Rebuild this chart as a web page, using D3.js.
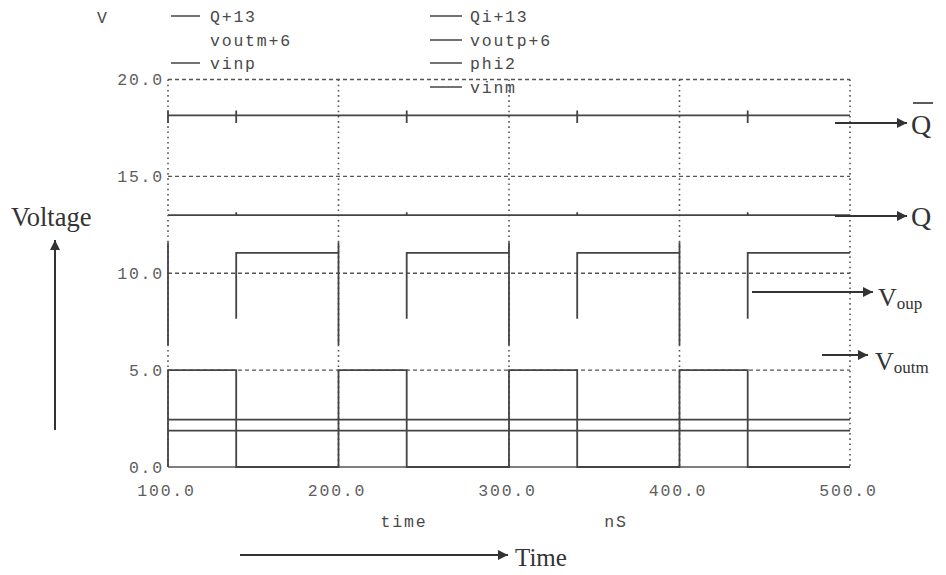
<!DOCTYPE html>
<html>
<head>
<meta charset="utf-8">
<script src="https://cdn.jsdelivr.net/npm/d3@7/dist/d3.min.js"></script>
<style>
  html, body { margin: 0; padding: 0; background: #fff; }
  svg { display: block; }
</style>
</head>
<body>
<svg id="chart" width="946" height="575"></svg>
<script>
// Transient simulation of the latch: time in nS, voltages offset for stacking.
const timeTicks = [100, 200, 300, 400, 500];
const timeTickLabels = ["100.0", "200.0", "300.0", "400.0", "500.0"];
const voltTicks = [0, 5, 10, 15, 20];
const voltTickLabels = ["0.0", "5.0", "10.0", "15.0", "20.0"];

// Qi+13 (Q-bar), with small glitches at each evaluation edge
const qiTime = [100, 100, 100, 100, 140, 140, 140, 140, 240, 240, 240, 240, 340, 340, 340, 340, 440, 440, 440, 440, 500];
const qiVolt = [18.15, 18.4, 17.75, 18.15, 18.15, 18.4, 17.75, 18.15, 18.15, 18.4, 17.75, 18.15, 18.15, 18.4, 17.75, 18.15, 18.15, 18.4, 17.75, 18.15, 18.15];

// Q+13
const qTime = [100, 140, 140, 140, 240, 240, 240, 340, 340, 340, 440, 440, 440, 500];
const qVolt = [13.0, 13.0, 13.15, 13.0, 13.0, 13.15, 13.0, 13.0, 13.15, 13.0, 13.0, 13.15, 13.0, 13.0];

// voutp+6 (NaN = no trace)
const voutpTime = [100, 100, NaN, 140, 140, 200, 200, 200, NaN, 240, 240, 300, 300, 300, NaN, 340, 340, 400, 400, 400, NaN, 440, 440, 500];
const voutpVolt = [11.6, 6.3, NaN, 7.65, 11.05, 11.05, 11.6, 6.3, NaN, 7.65, 11.05, 11.05, 11.6, 6.3, NaN, 7.65, 11.05, 11.05, 11.6, 6.3, NaN, 7.65, 11.05, 11.05];

// phi2 clock
const phi2Time = [100, 100, 140, 140, 200, 200, 240, 240, 300, 300, 340, 340, 400, 400, 440, 440, 500];
const phi2Volt = [0, 5, 5, 0, 0, 5, 5, 0, 0, 5, 5, 0, 0, 5, 5, 0, 0];

// differential inputs
const vinpTime = [100, 500];
const vinpVolt = [2.45, 2.45];
const vinmTime = [100, 500];
const vinmVolt = [1.88, 1.88];

const legendLeft = ["Q+13", "voutm+6", "vinp"];
const legendLeftLine = [true, false, true];
const legendRight = ["Qi+13", "voutp+6", "phi2", "vinm"];

const svg = d3.select("#chart");
const ink = "#444";
const mono = "'Liberation Mono', 'DejaVu Sans Mono', monospace";
const serif = "'Liberation Serif', 'DejaVu Serif', serif";

const x = d3.scaleLinear().domain([100, 500]).range([168, 850]);
const y = d3.scaleLinear().domain([0, 20]).range([467, 79.5]);

// grid: dotted verticals, dashed horizontals
const grid = svg.append("g").attr("stroke", "#555").attr("fill", "none");
grid.selectAll("line.v").data(timeTicks).join("line")
  .attr("x1", d => x(d)).attr("x2", d => x(d))
  .attr("y1", y(20)).attr("y2", y(0))
  .attr("stroke-width", 1.6).attr("stroke-dasharray", "1.6,3.6");
grid.selectAll("line.h").data(voltTicks.filter(d => d > 0)).join("line")
  .attr("x1", x(100)).attr("x2", x(500))
  .attr("y1", d => y(d)).attr("y2", d => y(d))
  .attr("stroke-width", 1.3).attr("stroke-dasharray", "4,3");
grid.append("line")
  .attr("x1", x(100)).attr("x2", x(500)).attr("y1", y(0)).attr("y2", y(0))
  .attr("stroke-width", 1.5);

// axes built with d3 axis generators, domain paths and tick lines hidden
const yAxis = svg.append("g").attr("transform", `translate(${x(100)},0)`)
  .call(d3.axisLeft(y).tickValues(voltTicks).tickFormat((d, i) => voltTickLabels[i]).tickSize(0).tickPadding(4));
const xAxis = svg.append("g").attr("transform", `translate(0,${y(0)})`)
  .call(d3.axisBottom(x).tickValues(timeTicks).tickFormat((d, i) => timeTickLabels[i]).tickSize(0).tickPadding(17));
[yAxis, xAxis].forEach(a => {
  a.select(".domain").remove();
  a.selectAll("text").attr("font-family", mono).attr("font-size", 16.5)
    .attr("letter-spacing", 1.8).attr("fill", "#5e5e5e");
});
xAxis.selectAll("text").attr("dx", -2);

// traces
const line = d3.line()
  .defined(d => !isNaN(d[0]) && !isNaN(d[1]))
  .x(d => x(d[0])).y(d => y(d[1]));
const series = [
  [qiTime, qiVolt], [qTime, qVolt], [voutpTime, voutpVolt],
  [phi2Time, phi2Volt], [vinpTime, vinpVolt], [vinmTime, vinmVolt]
];
svg.append("g").selectAll("path").data(series).join("path")
  .attr("d", s => line(d3.zip(s[0], s[1])))
  .attr("fill", "none").attr("stroke", ink).attr("stroke-width", 1.8);

// legend
const monoText = g => g.attr("font-family", mono).attr("font-size", 16.5)
  .attr("letter-spacing", 1.8).attr("fill", "#4a4a4a");
svg.append("text").attr("x", 97).attr("y", 23).text("V").call(monoText);
const legRowY = [17, 41, 64, 88];
const lg = svg.append("g").call(monoText);
legendLeft.forEach((name, i) => {
  if (legendLeftLine[i]) {
    lg.append("line").attr("x1", 171).attr("x2", 200).attr("y1", legRowY[i] - 1).attr("y2", legRowY[i] - 1)
      .attr("stroke", ink).attr("stroke-width", 1.5);
  }
  lg.append("text").attr("x", 210).attr("y", legRowY[i] + 5).text(name);
});
legendRight.forEach((name, i) => {
  lg.append("line").attr("x1", 430).attr("x2", 462).attr("y1", legRowY[i] - 1).attr("y2", legRowY[i] - 1)
    .attr("stroke", ink).attr("stroke-width", 1.5);
  lg.append("text").attr("x", 470).attr("y", legRowY[i] + 5).text(name);
});

// axis titles
const at = svg.append("g").call(monoText);
at.append("text").attr("x", 404).attr("y", 527).attr("text-anchor", "middle").text("time");
at.append("text").attr("x", 616).attr("y", 527).attr("text-anchor", "middle").text("nS");

// annotation arrows
const defs = svg.append("defs");
defs.append("marker").attr("id", "head").attr("viewBox", "0 0 10 10")
  .attr("refX", 10).attr("refY", 5).attr("markerWidth", 14).attr("markerHeight", 10)
  .attr("markerUnits", "userSpaceOnUse").attr("orient", "auto")
  .append("path").attr("d", "M0,0 L10,5 L0,10 Z").attr("fill", "#333");

const arrows = [
  [55, 430, 55, 240],
  [240, 555, 508, 555],
  [835, 123, 907, 123],
  [835, 216, 907, 216],
  [752, 292, 873, 292],
  [822, 355, 868, 355]
];
svg.append("g").selectAll("line").data(arrows).join("line")
  .attr("x1", d => d[0]).attr("y1", d => d[1]).attr("x2", d => d[2]).attr("y2", d => d[3])
  .attr("stroke", "#333").attr("stroke-width", 2).attr("marker-end", "url(#head)");

const ann = svg.append("g").attr("font-family", serif).attr("fill", "#333");
ann.append("text").attr("x", 11).attr("y", 226).attr("font-size", 26.5).text("Voltage");
ann.append("text").attr("x", 515).attr("y", 566).attr("font-size", 25).text("Time");
ann.append("text").attr("x", 911).attr("y", 134).attr("font-size", 28).text("Q");
ann.append("line").attr("x1", 913).attr("x2", 933).attr("y1", 103).attr("y2", 103)
  .attr("stroke", "#333").attr("stroke-width", 1.6);
ann.append("text").attr("x", 911).attr("y", 226).attr("font-size", 28).text("Q");
const vo = ann.append("text").attr("x", 878).attr("y", 306).attr("font-size", 26);
vo.append("tspan").text("V");
vo.append("tspan").attr("font-size", 17).attr("dy", 3).text("oup");
const vm = ann.append("text").attr("x", 875).attr("y", 370).attr("font-size", 26);
vm.append("tspan").text("V");
vm.append("tspan").attr("font-size", 17).attr("dy", 3).text("outm");
</script>
</body>
</html>
